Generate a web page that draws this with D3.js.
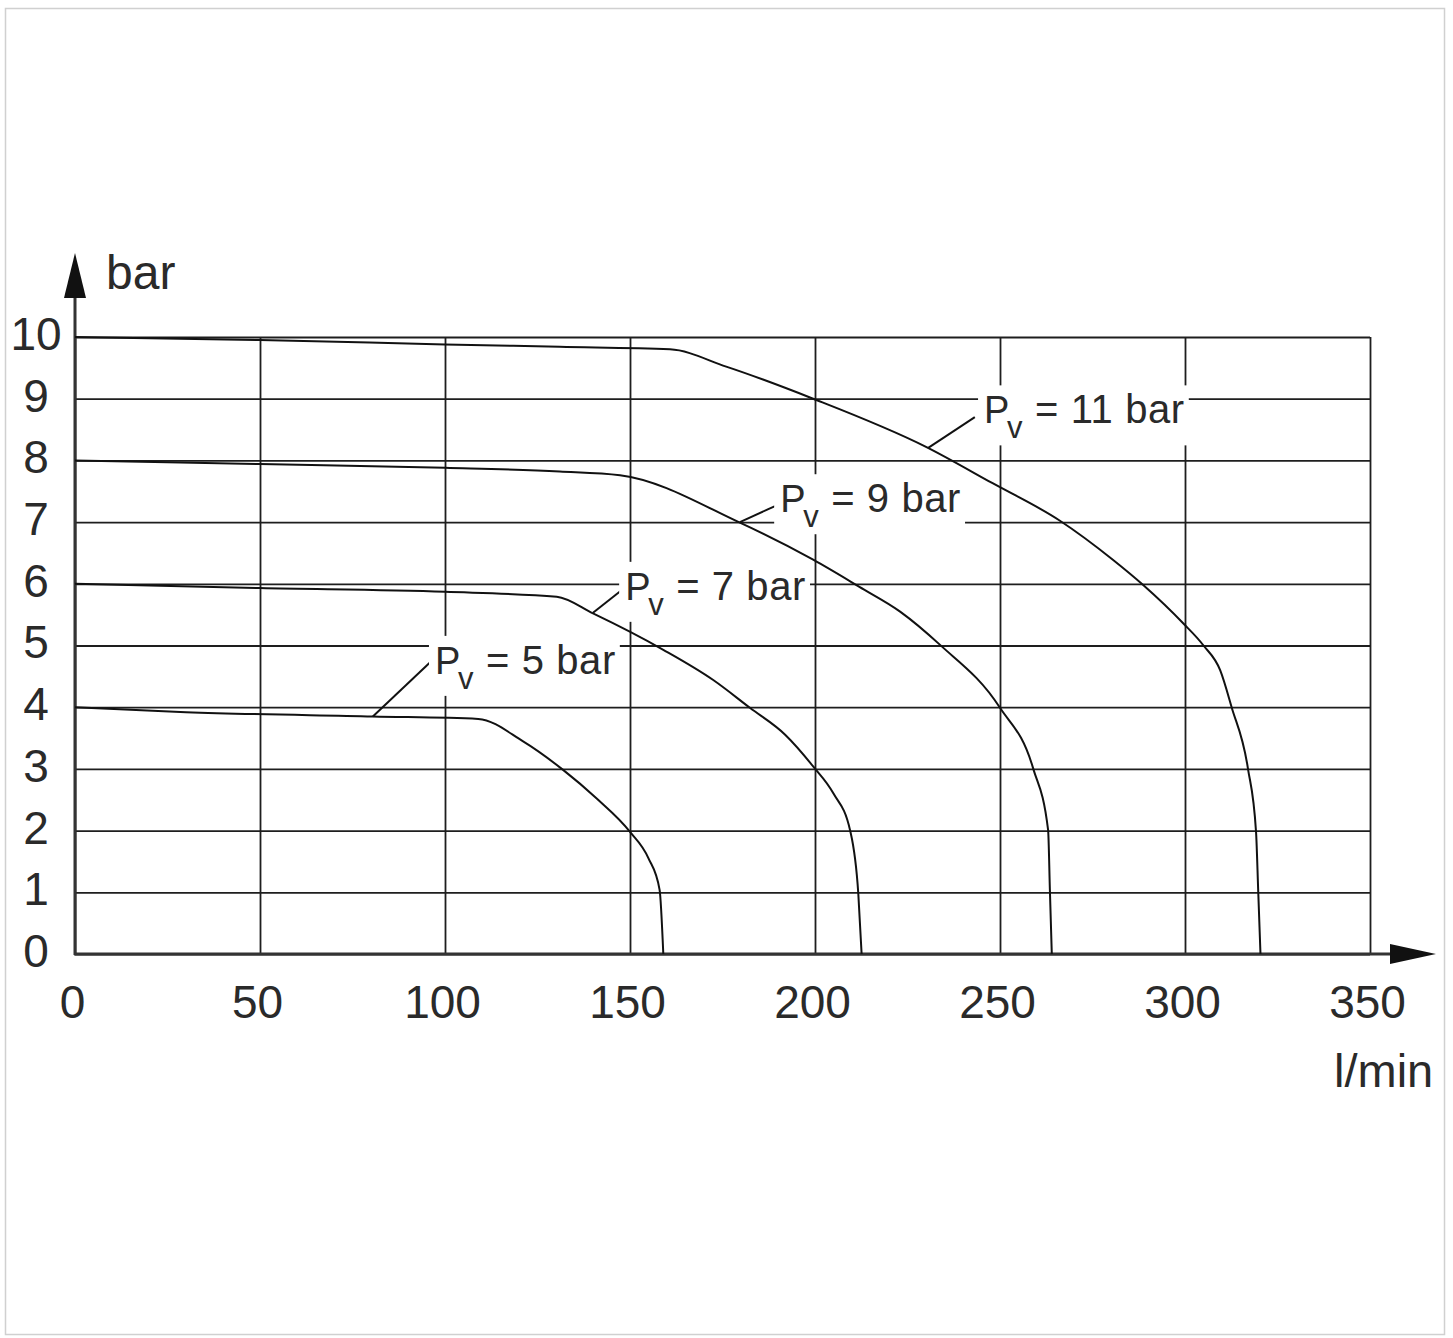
<!DOCTYPE html>
<html>
<head>
<meta charset="utf-8">
<script src="https://cdn.jsdelivr.net/npm/d3@7"></script>
<style>
body { margin: 0; background: #fff; }
svg { display: block; font-family: "Liberation Sans", Arial, sans-serif; }
</style>
</head>
<body>
<div id="chart"></div>
<script>
// tick values
const xTicks = [0, 50, 100, 150, 200, 250, 300, 350]
const yTicks = [0, 1, 2, 3, 4, 5, 6, 7, 8, 9, 10]

// curves, one per pilot pressure Pv (flow l/min -> pressure bar)
const pv = ["5", "7", "9", "11"]
const flow5 = [0, 30, 80.5, 109, 121, 132, 141, 150, 155, 158, 159]
const bar5 = [4, 3.92, 3.85, 3.81, 3.45, 2.98, 2.52, 1.98, 1.55, 1.04, 0]
const flow7 = [0, 50, 100, 130.2, 140, 159, 172.5, 182.4, 192, 199.5, 205, 209.5, 211.7, 212.6]
const bar7 = [6, 5.93, 5.87, 5.79, 5.52, 4.93, 4.44, 3.99, 3.55, 3.04, 2.6, 2.0, 0.98, 0]
const flow9 = [0, 50, 100, 131, 147.3, 179.7, 199.5, 212, 223, 233.8, 250, 259, 263, 263.5, 264]
const bar9 = [8, 7.94, 7.88, 7.82, 7.76, 6.99, 6.39, 5.95, 5.55, 5.01, 3.99, 3.0, 2.01, 1.0, 0]
const flow11 = [0, 50, 100, 131, 160.8, 176, 199.5, 230, 248, 266, 280.5, 288.7, 299.5, 305, 309.5, 312.6, 317, 319.2, 319.8, 320.4]
const bar11 = [10, 9.95, 9.88, 9.84, 9.8, 9.52, 9.0, 8.22, 7.63, 7.03, 6.39, 5.98, 5.36, 5.0, 4.6, 4.0, 3.01, 1.98, 1.0, 0]

// where the "Pv = .." labels sit (data units) and the leader line ends
const labelFlow = [98.1, 149.5, 191.4, 246.5]
const labelBar = [4.54, 5.74, 7.16, 8.6]
const leadFromFlow = [80.5, 140, 179.7, 230.5]
const leadFromBar = [3.85, 5.53, 7.0, 8.2]
const leadToFlow = [96, 147.8, 189.2, 243.2]
const leadToBar = [4.73, 5.9, 7.26, 8.7]

const W = 1453, H = 1338
const ink = "#2a2a2a"

const x = d3.scaleLinear().domain([0, 350]).range([75, 1370])
const y = d3.scaleLinear().domain([0, 10]).range([954, 337])

const svg = d3.select("#chart").append("svg")
    .attr("width", W).attr("height", H)

// light frame round the picture
svg.append("rect")
    .attr("x", 5.5).attr("y", 8.5)
    .attr("width", 1439).attr("height", 1326)
    .attr("fill", "none").attr("stroke", "#d0d0d0").attr("stroke-width", 1.5)

// grid via axes
const gx = svg.append("g")
    .attr("transform", `translate(0,${y(0)})`)
    .call(d3.axisBottom(x).tickValues(xTicks).tickSize(-(y(0) - y(10))).tickSizeOuter(0).tickPadding(31))
const gy = svg.append("g")
    .attr("transform", `translate(${x(0)},0)`)
    .call(d3.axisLeft(y).tickValues(yTicks).tickSize(-(x(350) - x(0))).tickSizeOuter(0))

for (const g of [gx, gy]) {
    g.select(".domain").remove()
    g.selectAll(".tick line").attr("stroke", "#1e1e1e").attr("stroke-width", 1.8)
    g.selectAll(".tick text").attr("fill", ink).attr("font-size", 46)
        .attr("font-family", "\"Liberation Sans\", Arial, sans-serif")
}
gx.selectAll(".tick text").attr("dx", -3)
gy.selectAll(".tick text").attr("x", -39).attr("text-anchor", "middle").attr("dy", "0.27em")

// axes with arrows
svg.append("line")
    .attr("x1", x(0)).attr("x2", x(0)).attr("y1", y(0) + 1).attr("y2", 296)
    .attr("stroke", "#333").attr("stroke-width", 3)
svg.append("line")
    .attr("x1", x(0) - 1).attr("x2", 1392).attr("y1", y(0)).attr("y2", y(0))
    .attr("stroke", "#333").attr("stroke-width", 3)
svg.append("path")
    .attr("d", `M${x(0)},253 L${x(0) - 11},298 L${x(0) + 11},298 Z`)
    .attr("fill", "#111")
svg.append("path")
    .attr("d", `M1436,${y(0)} L1390,${y(0) - 10} L1390,${y(0) + 10} Z`)
    .attr("fill", "#111")

svg.append("text").attr("x", 106).attr("y", 289)
    .attr("font-size", 48).attr("fill", ink).text("bar")
svg.append("text").attr("x", 1334).attr("y", 1087)
    .attr("font-size", 47).attr("fill", ink).text("l/min")

// label boxes (white, break the grid)
const labels = svg.append("g")
const boxes = labels.append("g")
const texts = labels.append("g")
pv.forEach((p, i) => {
    const px = x(labelFlow[i]), py = y(labelBar[i])
    const t = texts.append("g")
    t.append("text").attr("x", px - 3).attr("y", py)
        .attr("font-size", 38).attr("fill", ink).text("P")
    t.append("text").attr("x", px + 20).attr("y", py + 15)
        .attr("font-size", 31).attr("fill", ink).text("v")
    t.append("text").attr("x", px + 48).attr("y", py)
        .attr("font-size", 40).attr("letter-spacing", 0.6).attr("fill", ink).text(`= ${p} bar`)
    const bb = t.node().getBBox()
    boxes.append("rect")
        .attr("x", bb.x - 6).attr("y", py - 38)
        .attr("width", bb.width + 10).attr("height", 60)
        .attr("fill", "#fff")
})

// curves
const line = d3.line().x(d => x(d[0])).y(d => y(d[1])).curve(d3.curveMonotoneX)
const series = [[flow5, bar5], [flow7, bar7], [flow9, bar9], [flow11, bar11]]
svg.append("g")
    .selectAll("path")
    .data(series)
    .join("path")
    .attr("d", s => line(s[0].map((f, i) => [f, s[1][i]])))
    .attr("fill", "none")
    .attr("stroke", "#111")
    .attr("stroke-width", 2)

// leader lines
svg.append("g")
    .selectAll("line")
    .data(pv)
    .join("line")
    .attr("x1", (d, i) => x(leadFromFlow[i])).attr("y1", (d, i) => y(leadFromBar[i]))
    .attr("x2", (d, i) => x(leadToFlow[i])).attr("y2", (d, i) => y(leadToBar[i]))
    .attr("stroke", "#111").attr("stroke-width", 2)

labels.raise()
boxes.lower()
</script>
</body>
</html>
